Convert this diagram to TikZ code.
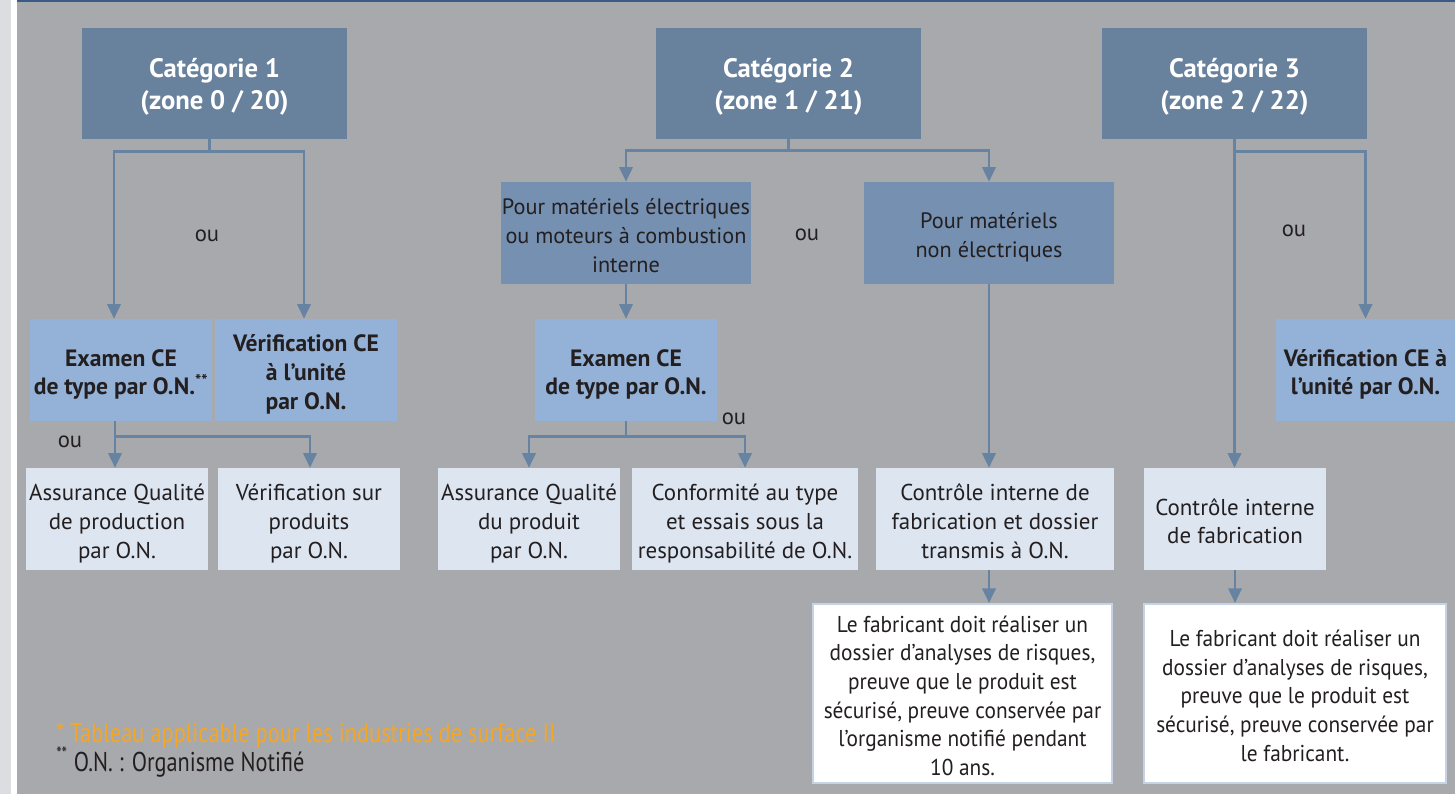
\documentclass[tikz,border=0pt]{standalone}
\usepackage{fontspec}
\setmainfont{PT Sans}
\newfontfamily\condfont[FakeStretch=0.82]{PT Sans}
\newfontfamily\semicond[FakeStretch=0.93]{PT Sans}
\usetikzlibrary{arrows.meta,calc}
\newcommand\tp{\rule{0pt}{20.5pt}}
\newcommand\bt{\rule[-5pt]{0pt}{5pt}}
\definecolor{bggray}{HTML}{A8A9AD}
\definecolor{stripe}{HTML}{DCDDE0}
\definecolor{topline}{HTML}{3C5A88}
\definecolor{catc}{HTML}{68819C}
\definecolor{midc}{HTML}{7590B0}
\definecolor{examc}{HTML}{94B2D7}
\definecolor{lightc}{HTML}{DCE5F0}
\definecolor{connc}{HTML}{6683A2}
\definecolor{txt}{HTML}{231F20}
\definecolor{orangec}{HTML}{F5A623}
\definecolor{wborder}{HTML}{C5D3E6}
\tikzset{
  sz/.style 2 args={minimum width=#1*0.75pt, minimum height=#2*0.75pt},
  basebox/.style={inner sep=0pt, align=center, text=txt, font=\fontsize{17.2}{21.5}\selectfont},
  catbox/.style={basebox, fill=catc, text=white, font=\fontsize{20}{24}\selectfont\bfseries},
  midbox/.style={basebox, fill=midc, font=\fontsize{16.7}{21.75}\selectfont},
  exambox/.style={basebox, fill=examc, font=\fontsize{17.7}{21.5}\selectfont\bfseries},
  lightbox/.style={basebox, fill=lightc},
  whitebox/.style={basebox, fill=white, draw=wborder, line width=1.5pt, font=\semicond\fontsize{17.2}{21.5}\selectfont},
  oulabel/.style={inner sep=0pt, text=txt, font=\fontsize{17}{20}\selectfont},
  conn/.style={draw=connc, line width=2pt},
  arr/.style={conn, -{Triangle[width=10pt,length=11pt]}},
}
\begin{document}
\begin{tikzpicture}[x=0.75pt,y=-0.75pt]
\useasboundingbox (0,0) rectangle (1455,794);
% background
\fill[bggray] (0,0) rectangle (1455,794);
\fill[stripe] (0,0) rectangle (11,794);
\fill[white] (11,0) rectangle (17,794);
\fill[topline] (17,0) rectangle (1455,2);

% category boxes
\node[catbox, sz={265}{111}] (cat1) at (214.5,83.5) {\tp Catégorie 1\\(zone 0 / 20)\bt};
\node[catbox, sz={265}{111}] (cat2) at (788.5,83.5) {\tp Catégorie 2\\(zone 1 / 21)\bt};
\node[catbox, sz={265}{111}] (cat3) at (1234.5,83.5) {\tp Catégorie 3\\(zone 2 / 22)\bt};

% column 1
\node[exambox, sz={182}{102}] (exam1) at (121,370) {\tp Examen CE\\de type par O.N.\textsuperscript{**}\bt};
\node[exambox, sz={182}{102}] (verif1) at (306,370) {\tp Vérification CE\\à l’unité\\par O.N.\bt};
\node[lightbox, sz={182}{102}] (aq1) at (117,519) {\tp Assurance Qualité\\de production\\par O.N.\bt};
\node[lightbox, sz={182}{102}] (vsp) at (309,519) {\tp Vérification sur\\produits\\par O.N.\bt};

% column 2
\node[midbox, sz={250}{102}] (elec) at (626,233) {\tp Pour matériels électriques\\ou moteurs à combustion\\interne\bt};
\node[midbox, sz={250}{102}] (nonelec) at (989,233) {\tp Pour matériels\\non électriques\bt};
\node[exambox, sz={182}{102}] (exam2) at (626,370) {\tp Examen CE\\de type par O.N.\bt};
\node[lightbox, sz={182}{102}] (aq2) at (529,519) {\tp Assurance Qualité\\du produit\\par O.N.\bt};
\node[lightbox, sz={226}{102}] (conf) at (745,519) {\tp Conformité au type\\et essais sous la\\responsabilité de O.N.\bt};
\node[lightbox, sz={238}{102}] (ctrl1) at (995,519) {\tp Contrôle interne de\\fabrication et dossier\\transmis à O.N.\bt};
\node[whitebox, sz={299}{179}] (white1) at (962.5,693.5) {\tp Le fabricant doit réaliser un\\dossier d’analyses de risques,\\preuve que le produit est\\sécurisé, preuve conservée par\\l’organisme notifié pendant\\10 ans.\bt};

% column 3
\node[exambox, sz={179}{102}] (verif3) at (1365.5,370) {\tp Vérification CE à\\l’unité par O.N.\bt};
\node[lightbox, sz={182}{102}] (ctrl3) at (1235,519) {\tp Contrôle interne\\de fabrication\bt};
\node[whitebox, sz={302}{179}] (white2) at (1295,693.5) {\tp Le fabricant doit réaliser un\\dossier d’analyses de risques,\\preuve que le produit est\\sécurisé, preuve conservée par\\le fabricant.\bt};

% "ou" labels
\node[oulabel] (ou1) at (207,236) {ou};
\node[oulabel] (ou2) at (807,235) {ou};
\node[oulabel] (ou3) at (70,442) {ou};
\node[oulabel] (ou4) at (734,419) {ou};
\node[oulabel] (ou5) at (1294,231) {ou};

% connectors category 1
\draw[conn] ([xshift=-4pt]cat1.south) -- ++(0,12) coordinate (j1);
\draw[arr] (j1) -| ([xshift=-5.25pt]exam1.north);
\draw[arr] (j1) -| ([xshift=-1.5pt]verif1.north);
\draw[conn] ([xshift=-4.5pt]exam1.south) -- ++(0,15) coordinate (j2);
\draw[arr] (j2) -- (aq1.north -| j2);
\draw[arr] (j2) -| ([xshift=0.75pt]vsp.north);

% connectors category 2
\draw[conn] (cat2.south) -- ++(0,11) coordinate (j3);
\draw[arr] (j3) -| (elec.north);
\draw[arr] (j3) -| (nonelec.north);
\draw[arr] (elec.south) -- (exam2.north);
\draw[conn] (exam2.south) -- ++(0,15) coordinate (j4);
\draw[arr] (j4) -| (aq2.north);
\draw[arr] (j4) -| (conf.north);
\draw[arr] (nonelec.south) -- (ctrl1.north -| nonelec.south);
\draw[arr] (ctrl1.south -| nonelec.south) -- (white1.north -| nonelec.south);

% connectors category 3
\draw[conn] (cat3.south) -- ++(0,12) coordinate (j5);
\draw[arr] (j5) -| (verif3.north);
\draw[arr] (cat3.south) -- (ctrl3.north -| cat3.south);
\draw[arr] (ctrl3.south) -- (white2.north -| ctrl3.south);

% footnotes
\node[anchor=base west, inner sep=0pt, text=orangec, font=\condfont\fontsize{20.5}{24}\selectfont] (fn1) at (56,742) {* Tableau applicable pour les industries de surface II};
\node[anchor=base west, inner sep=0pt, text=txt, font=\condfont\fontsize{20.4}{24}\selectfont] (fn2) at (56,771) {\textsuperscript{**} O.N. : Organisme Notifié};
\end{tikzpicture}
\end{document}
